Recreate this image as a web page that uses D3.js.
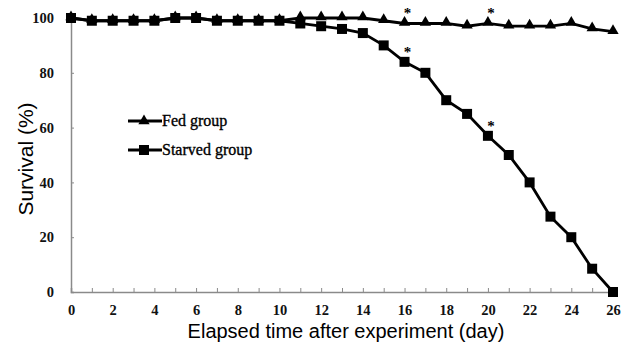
<!DOCTYPE html>
<html><head><meta charset="utf-8">
<script src="https://cdn.jsdelivr.net/npm/d3@7"></script>
<style>body{margin:0;background:#fff}svg{display:block}</style>
</head><body>
<script>
const days = d3.range(0, 27);
const fed = [100,99,99,99,99,100,100,99,99,99,99,100,100,100,100,99,98,98,98,97,98,97,97,97,98,96,95];
const starved = [100,99,99,99,99,100,100,99,99,99,99,98,97,96,94.5,90,84,80,70,65,57,50,40,27.5,20,8.5,0];
const xTicks = d3.range(0, 27, 2);
const yTicks = [0,20,40,60,80,100];
const stars = [{s:"fed",d:16},{s:"fed",d:20},{s:"starved",d:16},{s:"starved",d:20}];
const legendItems = [{name:"Fed group",shape:"triangle"},{name:"Starved group",shape:"square"}];

const W=629,H=342;
const svg=d3.select("body").append("svg").attr("width",W).attr("height",H);
const x=d3.scaleLinear().domain([0,26]).range([71,613]);
const y=d3.scaleLinear().domain([0,100]).range([292,18]);
const axisColor="#8a8a8a";
const serif="'Liberation Serif','Times New Roman',serif";
const sans="'Liberation Sans',Arial,sans-serif";

// axes
const gx=svg.append("g").attr("transform","translate(0,292)")
  .call(d3.axisBottom(x).tickValues(days).tickSize(-4).tickFormat(d=>xTicks.includes(d)?d:""));
gx.select(".domain").attr("stroke",axisColor).attr("stroke-width",1.5);
gx.selectAll(".tick line").attr("stroke",axisColor);
gx.selectAll(".tick text").attr("font-family",serif).attr("font-size",14.5).attr("font-weight","bold").attr("fill","#111").attr("dy","1.35em");
const gy=svg.append("g").attr("transform","translate(71,0)")
  .call(d3.axisLeft(y).tickValues(yTicks).tickSize(-3).tickPadding(17));
gy.select(".domain").attr("stroke",axisColor).attr("stroke-width",1.5);
gy.selectAll(".tick line").attr("stroke",axisColor);
gy.selectAll(".tick text").attr("font-family",serif).attr("font-size",14.5).attr("font-weight","bold").attr("fill","#111");

// titles
svg.append("text").attr("x",346).attr("y",337.5).attr("text-anchor","middle")
  .attr("font-family",sans).attr("font-size",20).text("Elapsed time after experiment (day)");
svg.append("text").attr("transform","translate(33,159) rotate(-90)").attr("text-anchor","middle")
  .attr("font-family",sans).attr("font-size",21).text("Survival (%)");

const line=d3.line().x((d,i)=>x(days[i])).y(d=>y(d));
const tri=d3.symbol().type(d3.symbolTriangle).size(55);
const sq=d3.symbol().type(d3.symbolSquare).size(100);

// fed
svg.append("path").datum(fed).attr("d",line).attr("fill","none").attr("stroke","#000").attr("stroke-width",2.8);
svg.selectAll(".tri").data(fed).enter().append("path")
  .attr("transform",(d,i)=>`translate(${x(days[i])},${y(d)-1})`).attr("d",tri).attr("fill","#000");
// starved
svg.append("path").datum(starved).attr("d",line).attr("fill","none").attr("stroke","#000").attr("stroke-width",2.8);
svg.selectAll(".sq").data(starved).enter().append("path")
  .attr("transform",(d,i)=>`translate(${x(days[i])},${y(d)})`).attr("d",sq).attr("fill","#000");

// stars
svg.selectAll(".star").data(stars).enter().append("text")
  .attr("x",d=>x(d.d)+3)
  .attr("y",d=>y((d.s==="fed"?fed:starved)[d.d])-5)
  .attr("text-anchor","middle").attr("font-family",serif).attr("font-size",15).attr("font-weight","bold").text("*");

// legend
const lg=svg.selectAll(".lg").data(legendItems).enter().append("g")
  .attr("transform",(d,i)=>`translate(128,${121+i*29})`);
lg.append("line").attr("x1",0).attr("x2",34).attr("stroke","#000").attr("stroke-width",2.8);
lg.append("path").attr("transform","translate(16,0)").attr("d",d=>d.shape==="triangle"?tri():sq()).attr("fill","#000");
lg.append("text").attr("x",34).attr("y",5).attr("font-family",serif).attr("font-size",16).attr("stroke","#000").attr("stroke-width",0.35).text(d=>d.name);
</script>
</body></html>
